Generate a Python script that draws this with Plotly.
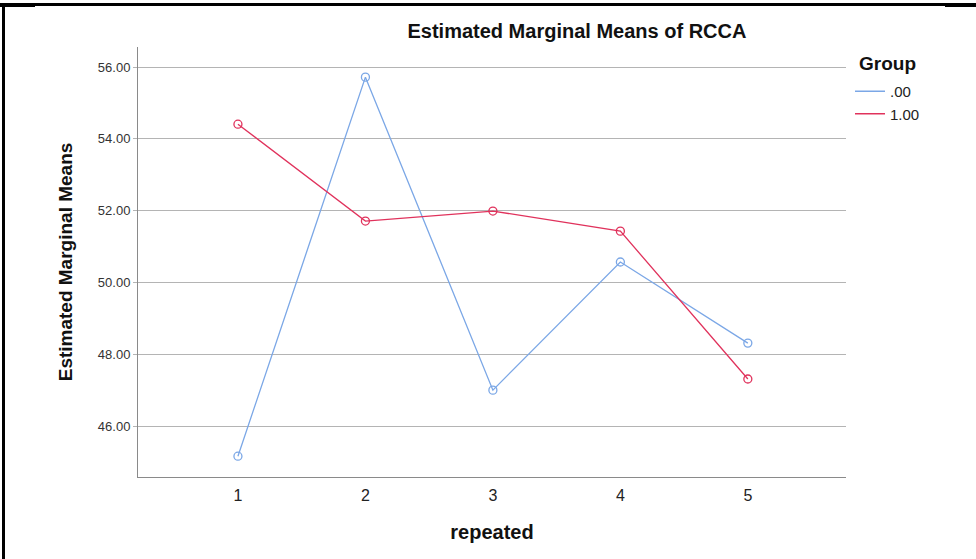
import plotly.graph_objects as go

repeated = [1, 2, 3, 4, 5]
group_00 = [45.16, 55.72, 47.00, 50.57, 48.31]
group_10 = [54.41, 51.71, 51.99, 51.43, 47.31]
y_ticks = [46, 48, 50, 52, 54, 56]
y_tick_labels = ["46.00", "48.00", "50.00", "52.00", "54.00", "56.00"]

blue = "#7ba7e6"
red = "#e0325c"

fig = go.Figure()
for name, vals, col in [(".00", group_00, blue), ("1.00", group_10, red)]:
    fig.add_trace(
        go.Scatter(
            x=repeated,
            y=vals,
            mode="lines+markers",
            name=name,
            showlegend=False,
            line=dict(color=col, width=1.3),
            marker=dict(symbol="circle-open", size=8, color=col, line=dict(width=1.3)),
        )
    )
    # legend entry shows the line only
    fig.add_trace(
        go.Scatter(
            x=[None],
            y=[None],
            mode="lines",
            name=name,
            line=dict(color=col, width=1.5),
        )
    )

fig.update_layout(
    width=976,
    height=559,
    margin=dict(l=138, r=130, t=47, b=82),
    paper_bgcolor="white",
    plot_bgcolor="white",
    font=dict(family="Liberation Sans, Arial, sans-serif", color="#222222"),
    title=dict(
        text="<b>Estimated Marginal Means of RCCA</b>",
        x=0.62,
        xref="paper",
        xanchor="center",
        y=1 - 31 / 559,
        yanchor="middle",
        font=dict(size=20, color="#111111"),
    ),
    showlegend=True,
    legend=dict(
        x=(850 - 138) / 708,
        xanchor="left",
        y=(477 - 75) / 430,
        yanchor="top",
        font=dict(size=15, color="#222222"),
        bgcolor="rgba(0,0,0,0)",
        tracegroupgap=0,
    ),
)

# legend heading
fig.add_annotation(
    text="<b>Group</b>",
    xref="paper", yref="paper",
    x=(857 - 138) / 708, xanchor="left",
    y=(477 - 63) / 430, yanchor="middle",
    showarrow=False,
    font=dict(size=19, color="#111111"),
)

fig.update_xaxes(
    range=[0.216, 5.77],
    tickvals=repeated,
    ticktext=[str(v) for v in repeated],
    tickfont=dict(size=16, color="#222222"),
    ticklabelstandoff=4,
    showgrid=False,
    zeroline=False,
    showline=True,
    linecolor="#8a8a8a",
    linewidth=1,
    ticks="",
    title=dict(text="<b>repeated</b>", font=dict(size=20, color="#111111"), standoff=21),
)
fig.update_yaxes(
    range=[44.58, 56.56],
    tickvals=y_ticks,
    ticktext=y_tick_labels,
    tickfont=dict(size=13, color="#333333"),
    showgrid=True,
    gridcolor="#b4b4b4",
    gridwidth=1,
    zeroline=False,
    showline=True,
    linecolor="#8a8a8a",
    linewidth=1,
    ticks="outside",
    ticklen=4,
    tickcolor="#b4b4b4",
    title=dict(text="<b>Estimated Marginal Means</b>", font=dict(size=19, color="#111111"), standoff=20),
)

# black frame at the top and left edges of the picture
def px_x(v):
    return (v - 138) / 708

def px_y(v):
    return (477 - v) / 430

frame = [
    (0, 976, 3, 6),     # top rule
    (0, 35, 3, 7),      # thicker left end
    (945, 976, 3, 7),   # thicker right end
    (2, 5, 3, 559),     # left rule
]
for x0, x1, y0, y1 in frame:
    fig.add_shape(type="rect", xref="paper", yref="paper",
                  x0=px_x(x0), x1=px_x(x1), y0=px_y(y0), y1=px_y(y1),
                  fillcolor="black", line=dict(width=0), layer="above")

fig.write_html(
    "out.html",
    config={"displayModeBar": False},
    post_script="document.body.style.margin='0';",
)
